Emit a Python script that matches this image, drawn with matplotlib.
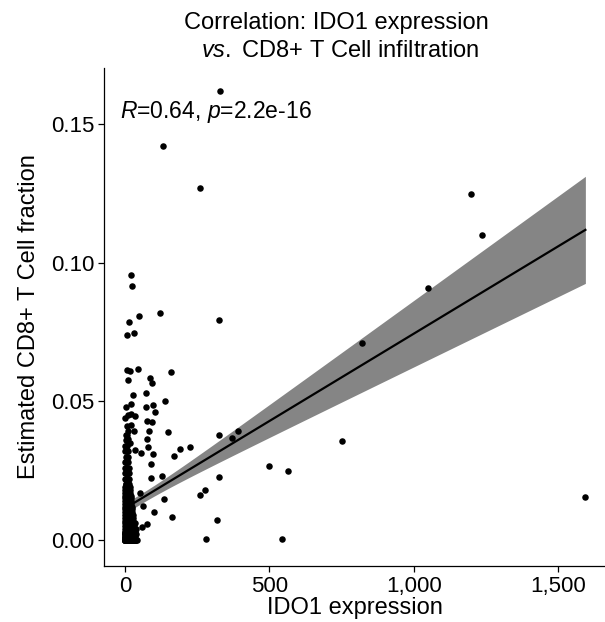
import numpy as np
import matplotlib
matplotlib.use("Agg")
import matplotlib.pyplot as plt
from matplotlib.ticker import FuncFormatter

plt.rcParams['font.family'] = ['Liberation Sans', 'DejaVu Sans']
plt.rcParams['mathtext.fontset'] = 'custom'
plt.rcParams['mathtext.rm'] = 'Liberation Sans'
plt.rcParams['mathtext.it'] = 'Liberation Sans:italic'

# ---- data (IDO1 expression, CD8+ T cell fraction) ----
# dense column of samples with low IDO1 expression: (CD8 fraction, [IDO1 values])
cluster_rows = [
    (0.000, [0, 0, 0, 1, 1, 2, 2, 3, 3, 4, 4, 5, 5, 6, 6, 7, 7, 8, 8, 9, 9, 10, 10, 11, 11,
             12, 12, 13, 13, 14, 14, 15, 15, 16, 16, 17, 18, 19, 20, 21, 22, 23, 24, 25, 26,
             27, 28, 29, 30, 31, 32, 33, 34, 35, 36, 38, 40, 0, 1, 2, 3, 5, 7, 9, 11, 13,
             2, 4, 6, 8, 3, 5, 7, 1, 0, 0, 1, 2, 3, 4, 5, 6, 7, 8, 9, 10, 11, 12, 14, 16,
             18, 20, 22, 24, 26, 1, 3, 5, 2, 0]),
    (0.001, [0, 2, 3, 5, 6, 8, 9, 11, 12, 14, 16, 18, 20, 22, 25, 28, 31, 35,
             1, 4, 7, 10, 13, 0, 2, 6, 9, 3]),
    (0.002, [1, 2, 4, 5, 7, 8, 10, 11, 13, 15, 17, 19, 21, 24, 27, 30, 33, 37,
             0, 3, 6, 9, 12, 1, 4, 8, 14, 2]),
    (0.003, [0, 1, 3, 4, 6, 7, 9, 10, 12, 14, 16, 18, 21, 23, 26, 29, 34]),
    (0.004, [1, 2, 4, 5, 7, 9, 10, 12, 14, 16, 18, 20, 23, 26, 30, 39]),
    (0.005, [0, 2, 3, 5, 6, 8, 10, 11, 13, 15, 17, 20, 22, 25, 31]),
    (0.006, [1, 3, 4, 6, 7, 9, 11, 13, 15, 17, 19, 22, 27, 33]),
    (0.007, [0, 2, 4, 5, 7, 9, 11, 13, 15, 18, 21, 24, 29]),
    (0.008, [1, 3, 5, 6, 8, 10, 12, 14, 17, 20, 23, 28]),
    (0.009, [0, 2, 4, 6, 8, 10, 12, 15, 18, 22, 26]),
    (0.010, [1, 3, 5, 7, 9, 11, 14, 17, 21, 25]),
    (0.011, [0, 2, 4, 6, 8, 10, 13, 16, 19, 24]),
    (0.012, [1, 3, 5, 7, 9, 12, 15, 19, 23]),
    (0.013, [0, 2, 4, 6, 9, 11, 14, 18, 22]),
    (0.014, [1, 3, 5, 8, 10, 13, 17, 21]),
    (0.015, [0, 2, 4, 7, 9, 12, 16, 20]),
    (0.016, [1, 3, 6, 8, 11, 15, 19]),
    (0.017, [0, 2, 5, 7, 10, 14, 18]),
    (0.018, [1, 4, 6, 9, 13, 17]),
    (0.019, [0, 3, 5, 8, 12, 16]),
    (0.020, [2, 4, 7, 11, 15]),
    (0.022, [1, 3, 6, 10, 14]),
    (0.024, [0, 2, 5, 9, 13]),
    (0.026, [1, 4, 8, 12]),
    (0.028, [0, 3, 7, 11]),
    (0.030, [2, 6, 10]),
    (0.032, [1, 5, 9]),
    (0.034, [0, 4, 8]),
    (0.036, [3, 7]),
    (0.038, [2, 6]),
    (0.041, [5]),
    (0.044, [1]),
    (0.048, [4]),
]

# individually visible samples: (IDO1 expression, CD8 fraction)
spread_pts = [
    (329, 0.1619), (133, 0.1421), (260, 0.1268),
    (20, 0.0954), (23, 0.0916), (121, 0.0818), (47, 0.0808), (14, 0.0785),
    (32, 0.0747), (8, 0.0739), (326, 0.0793),
    (8, 0.0614), (17, 0.0609), (44, 0.0618), (158, 0.0607), (11, 0.0578),
    (85, 0.0583), (95, 0.0567), (27, 0.0522), (73, 0.0531), (20, 0.0489),
    (73, 0.0478), (97, 0.0488), (139, 0.0500), (104, 0.0463), (11, 0.0451),
    (21, 0.0454), (35, 0.0447), (75, 0.0429), (95, 0.0424), (20, 0.0415),
    (11, 0.0393), (31, 0.0393), (82, 0.0394), (150, 0.0388),
    (326, 0.0377), (370, 0.0367), (390, 0.0393),
    (11, 0.0364), (76, 0.0364), (17, 0.0351),
    (79, 0.0334), (35, 0.0324), (55, 0.0312), (98, 0.0309), (89, 0.0273),
    (170, 0.0303), (191, 0.0327), (225, 0.0334), (129, 0.0232), (89, 0.0222),
    (52, 0.0168), (277, 0.0180), (258, 0.0162), (135, 0.0147), (63, 0.0123),
    (100, 0.0100), (162, 0.0082), (77, 0.0059), (60, 0.0046), (279, 0.0002),
    (327, 0.0226), (318, 0.0071),
    (498, 0.0268), (566, 0.0250), (545, 0.0003), (752, 0.0358), (820, 0.0709),
    (1048, 0.0910), (1199, 0.1246), (1236, 0.1098), (1595, 0.0154),
]

x_ticks = [0, 500, 1000, 1500]
y_ticks = [0.00, 0.05, 0.10, 0.15]
title_line1 = "Correlation: IDO1 expression"
title_line2 = r"$\mathit{vs.}$ CD8+ T Cell infiltration"
stat_label = r"$\mathit{R}$=0.64, $\mathit{p}$=2.2e-16"
x_label = "IDO1 expression"
y_label = "Estimated CD8+ T Cell fraction"

cx = [xv for yv, xs_ in cluster_rows for xv in xs_]
cy = [yv for yv, xs_ in cluster_rows for xv in xs_]
sx = [p[0] for p in spread_pts]
sy = [p[1] for p in spread_pts]
x = np.array(cx + sx, dtype=float)
y = np.array(cy + sy, dtype=float)

# ---- linear fit with 95% confidence band (like geom_smooth(method='lm')) ----
n = len(x)
slope, intercept = np.polyfit(x, y, 1)
resid = y - (intercept + slope * x)
s = np.sqrt(np.sum(resid ** 2) / (n - 2))
xbar = x.mean()
sxx = np.sum((x - xbar) ** 2)
xs = np.linspace(x.min(), x.max(), 80)
fit = intercept + slope * xs
se = s * np.sqrt(1.0 / n + (xs - xbar) ** 2 / sxx)
tcrit = 1.966
lo = fit - tcrit * se
hi = fit + tcrit * se

# ---- figure ----
W, H = 605, 622
fig = plt.figure(figsize=(W / 100, H / 100), dpi=100)
ax_l, ax_r, ax_t, ax_b = 104, 605, 68, 566
ax = fig.add_axes([ax_l / W, 1 - ax_b / H, (ax_r - ax_l) / W, (ax_b - ax_t) / H])

ax.fill_between(xs, lo, hi, color='#858585', linewidth=0, zorder=1)
ax.scatter(x, y, s=22, color='black', linewidths=0, zorder=2)
ax.plot(xs, fit, color='black', linewidth=1.6, zorder=3)

ax.set_xlim(-73, 1663)
ax.set_ylim(-0.0094, 0.1702)
ax.set_xticks(x_ticks)
ax.set_yticks(y_ticks)
ax.xaxis.set_major_formatter(FuncFormatter(lambda v, p: f"{int(v):,}"))
ax.yaxis.set_major_formatter(FuncFormatter(lambda v, p: f"{v:.2f}"))

for side in ['top', 'right']:
    ax.spines[side].set_visible(False)
for side in ['left', 'bottom']:
    ax.spines[side].set_linewidth(0.9)
    ax.spines[side].set_color('black')
ax.tick_params(axis='both', direction='out', length=4, width=0.9, colors='black',
               labelsize=16, pad=3)

ax.set_xlabel(x_label, fontsize=17, labelpad=0)
ax.set_ylabel(y_label, fontsize=17, labelpad=8)

fig.text(336 / W, 1 - 23 / H, title_line1, ha='center', va='center', fontsize=17)
fig.text(340 / W, 1 - 51 / H, title_line2, ha='center', va='center', fontsize=17)

ax.text(-17, 0.1545, stat_label, ha='left', va='center', fontsize=16.5)

fig.savefig("out.png", dpi=100)
